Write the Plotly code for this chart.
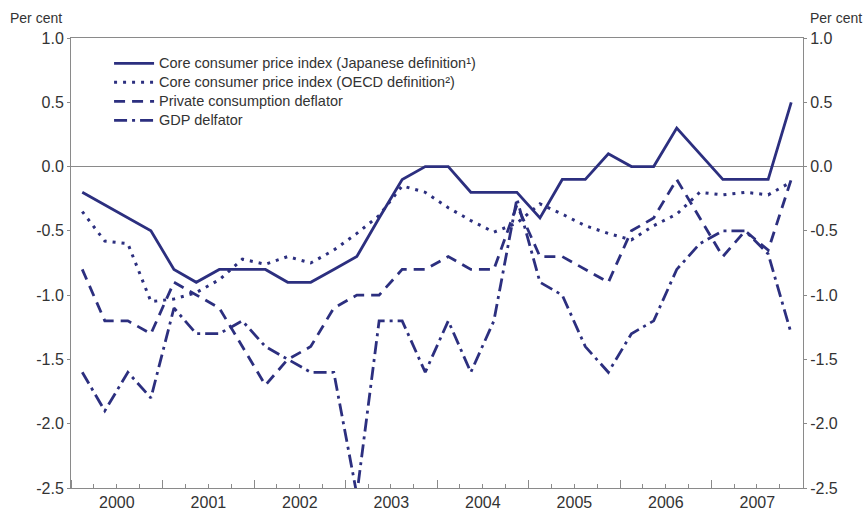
import plotly.graph_objects as go

# quarterly observations, 2000Q1 .. 2007Q4
quarters = [f"{year}-{month:02d}-15" for year in range(2000, 2008) for month in (2, 5, 8, 11)]

core_cpi_japan = [-0.2, -0.3, -0.4, -0.5, -0.8, -0.9, -0.8, -0.8,
                  -0.8, -0.9, -0.9, -0.8, -0.7, -0.4, -0.1, 0.0,
                  0.0, -0.2, -0.2, -0.2, -0.4, -0.1, -0.1, 0.1,
                  0.0, 0.0, 0.3, 0.1, -0.1, -0.1, -0.1, 0.5]

core_cpi_oecd = [-0.35, -0.58, -0.6, -1.05, -1.03, -0.98, -0.88, -0.72,
                 -0.76, -0.7, -0.75, -0.65, -0.52, -0.38, -0.15, -0.2,
                 -0.32, -0.42, -0.51, -0.44, -0.29, -0.37, -0.46, -0.52,
                 -0.57, -0.46, -0.37, -0.2, -0.22, -0.2, -0.22, -0.12]

private_consumption_deflator = [-0.8, -1.2, -1.2, -1.3, -0.9, -1.0, -1.1, -1.4,
                                -1.7, -1.5, -1.4, -1.1, -1.0, -1.0, -0.8, -0.8,
                                -0.7, -0.8, -0.8, -0.3, -0.7, -0.7, -0.8, -0.9,
                                -0.5, -0.4, -0.1, -0.4, -0.7, -0.5, -0.65, -0.1]

gdp_deflator = [-1.6, -1.9, -1.6, -1.8, -1.1, -1.3, -1.3, -1.2,
                -1.4, -1.5, -1.6, -1.6, -2.55, -1.2, -1.2, -1.6,
                -1.2, -1.6, -1.2, -0.25, -0.9, -1.0, -1.4, -1.6,
                -1.3, -1.2, -0.8, -0.6, -0.5, -0.5, -0.68, -1.3]

series_names = [
    "Core consumer price index (Japanese definition¹)",
    "Core consumer price index (OECD definition²)",
    "Private consumption deflator",
    "GDP delfator",
]

y_tick_values = [1.0, 0.5, 0.0, -0.5, -1.0, -1.5, -2.0, -2.5]
y_tick_labels = ["1.0", "0.5", "0.0", "-0.5", "-1.0", "-1.5", "-2.0", "-2.5"]

NAVY = "#2c2f7f"
AXIS_GREY = "#8a8a8a"
TEXT_GREY = "#333333"
FONT = "Liberation Sans, Arial, sans-serif"

line_styles = [
    dict(dash="solid", width=2.8),
    dict(dash="3px,6px", width=3),
    dict(dash="11px,7px", width=2.8),
    dict(dash="13px,5px,3px,5px", width=2.8),
]

fig = go.Figure()
for name, values, style in zip(series_names,
                               [core_cpi_japan, core_cpi_oecd, private_consumption_deflator, gdp_deflator],
                               line_styles):
    fig.add_trace(go.Scatter(
        x=quarters, y=values, mode="lines",
        # legend rows are spaced by the (small) legend font, text drawn larger
        name=f'<span style="font-size:14.5px">{name}</span>',
        line=dict(color=NAVY, **style),
        hoverinfo="skip",
    ))

y_axis_common = dict(
    range=[-2.5, 1.0],
    tickvals=y_tick_values,
    ticktext=y_tick_labels,
    showgrid=False,
    showline=True,
    linecolor=AXIS_GREY,
    linewidth=1,
    ticks="outside",
    ticklen=3,
    tickcolor=AXIS_GREY,
    automargin=False,
    tickfont=dict(family=FONT, size=16, color=TEXT_GREY),
)

fig.update_layout(
    width=864,
    height=511,
    margin=dict(l=71, r=61, t=38, b=23),
    paper_bgcolor="white",
    plot_bgcolor="white",
    font=dict(family=FONT, color=TEXT_GREY),
    showlegend=True,
    legend=dict(
        x=0.052, y=0.976, xanchor="left", yanchor="top",
        bgcolor="rgba(0,0,0,0)",
        font=dict(family=FONT, size=11.8, color=TEXT_GREY),
        itemwidth=40,
        tracegroupgap=0,
    ),
    xaxis=dict(
        type="date",
        range=["2000-01-01", "2008-01-01"],
        tick0="2000-01-01",
        dtick="M12",
        ticklabelmode="period",
        tickformat="%Y",
        showgrid=False,
        showline=True,
        mirror=True,
        linecolor=AXIS_GREY,
        linewidth=1,
        ticks="inside",
        ticklen=8,
        tickcolor=AXIS_GREY,
        automargin=False,
        tickfont=dict(family=FONT, size=16, color=TEXT_GREY),
        minor=dict(dtick="M3", tick0="2000-01-01", ticks="inside", ticklen=4, tickcolor=AXIS_GREY),
    ),
    yaxis=dict(
        **y_axis_common,
        side="left",
        zeroline=True,
        zerolinecolor=AXIS_GREY,
        zerolinewidth=1,
    ),
    yaxis2=dict(
        **y_axis_common,
        side="right",
        overlaying="y",
        zeroline=False,
    ),
)

# empty trace so the right-hand axis is drawn
fig.add_trace(go.Scatter(x=[quarters[0]], y=[None], yaxis="y2", showlegend=False, hoverinfo="skip"))

for x_pos, anchor in ((64, "right"), (808, "left")):
    fig.add_annotation(
        text="Per cent", xref="paper", yref="paper",
        x=(x_pos - 71) / 732, y=(511 - 18 - 23) / 450,
        xanchor=anchor, yanchor="middle", showarrow=False,
        font=dict(family=FONT, size=14, color=TEXT_GREY),
    )

# the page body has an 8px default margin; drop it so the chart sits at the window origin
fig.write_html("out.html", config={"displayModeBar": False},
               post_script="document.body.style.margin='0';")
